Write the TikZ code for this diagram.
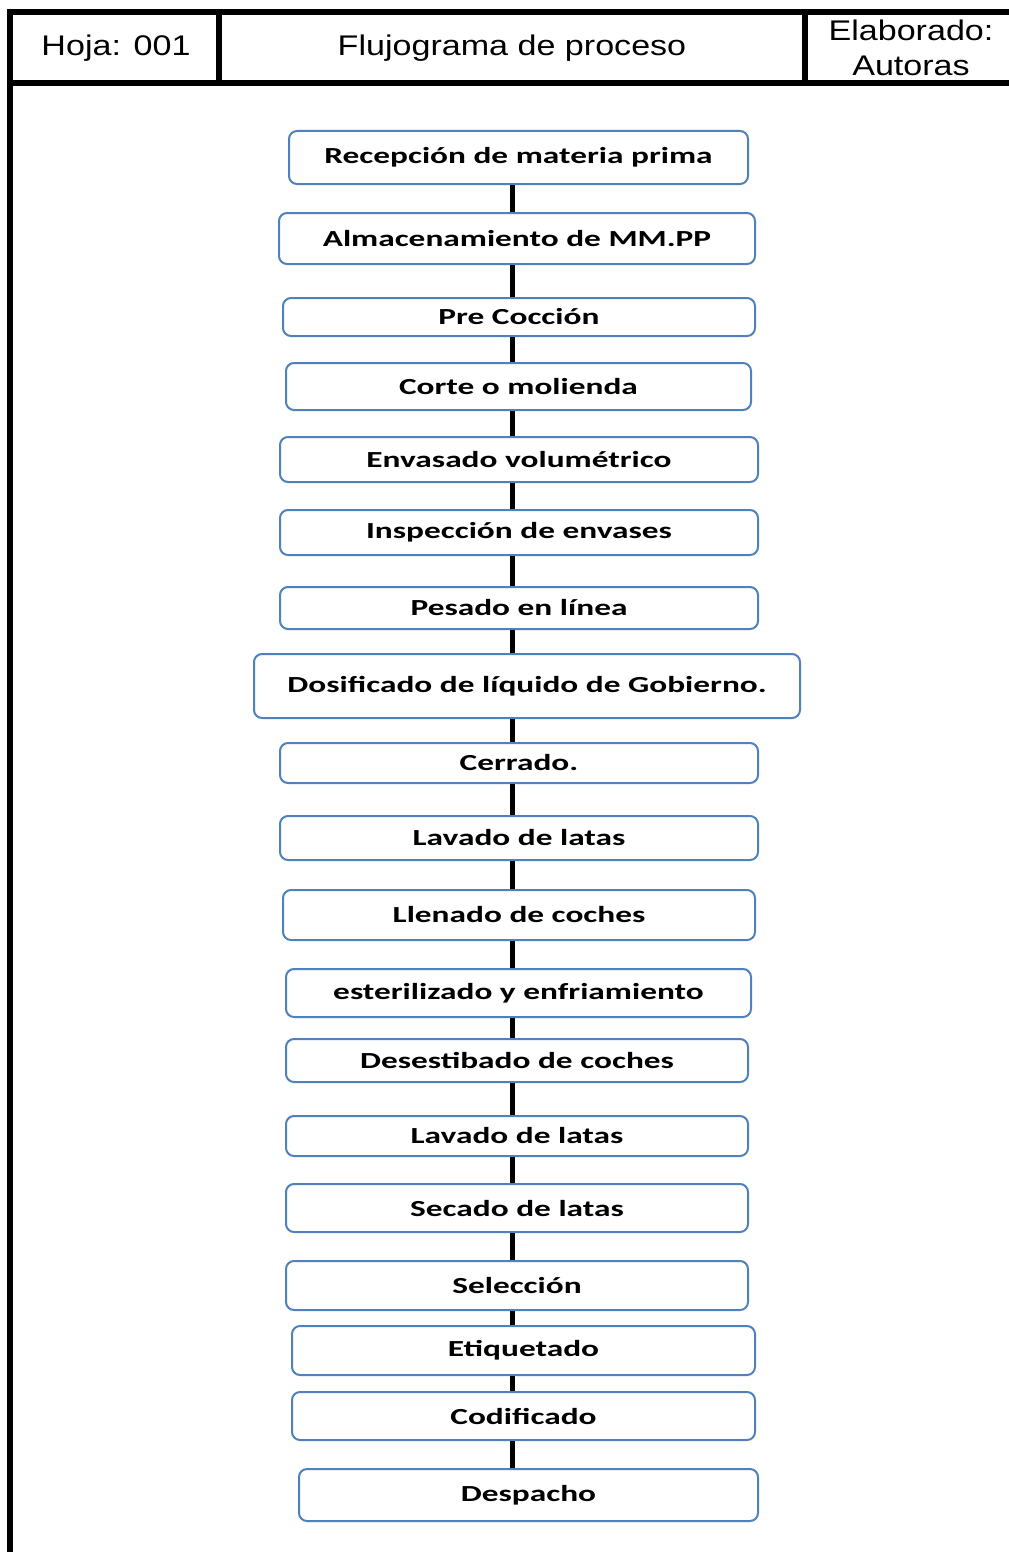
\documentclass[tikz,border=0pt]{standalone}
\usepackage{fontspec}
\setmainfont{Liberation Sans}
\newfontfamily\boxfont[FakeStretch=1.45]{Carlito}
\newfontfamily\headfont[FakeStretch=1.2]{Liberation Sans}
\definecolor{boxblue}{HTML}{4F81BD}
\begin{document}
\begin{tikzpicture}[x=0.5pt,y=-0.5pt,
  frame/.style={line width=2.6pt,black},
  box/.style={draw=boxblue,line width=1pt,rounded corners=4pt,fill=white,inner sep=0pt,
    font=\boxfont\bfseries\fontsize{11.5}{13}\selectfont},
  link/.style={line width=2.5pt,black},
  head/.style={font=\headfont\fontsize{14.2}{18}\selectfont,align=center}]
\useasboundingbox (0,0) rectangle (1008,1552);
% frame
\draw[frame] (10,1560) -- (10,12) -- (1016,12);
\draw[frame] (10,83) -- (1016,83);
\draw[frame] (219,12) -- (219,83);
\draw[frame] (805,12) -- (805,83);
\node[head] (hoja) at (116,48) {Hoja: 001};
\node[head] (title) at (512,48) {Flujograma de proceso};
\node[head,font=\headfont\fontsize{14.2}{17.5}\selectfont] (elab) at (911,48) {Elaborado:\\Autoras};
% spine
\coordinate (sp) at (512,0);
% boxes
\node[box,minimum width=229.5pt,minimum height=26.5pt] (b1) at (518.5,157.5) {Recepción de materia prima};
\node[box,minimum width=238pt,minimum height=25.5pt] (b2) at (517,238.5) {Almacenamiento de MM.PP};
\node[box,minimum width=236pt,minimum height=19pt] (b3) at (519,317) {Pre Cocción};
\node[box,minimum width=232.5pt,minimum height=23.5pt] (b4) at (518.5,386.5) {Corte o molienda};
\node[box,minimum width=239pt,minimum height=22.5pt] (b5) at (519,459.5) {Envasado volumétrico};
\node[box,minimum width=239pt,minimum height=22.5pt] (b6) at (519,532.5) {Inspección de envases};
\node[box,minimum width=239pt,minimum height=21pt] (b7) at (519,608) {Pesado en línea};
\node[box,minimum width=273pt,minimum height=32pt] (b8) at (527,686) {Dosificado de líquido de Gobierno.};
\node[box,minimum width=239pt,minimum height=20pt] (b9) at (519,763) {Cerrado.};
\node[box,minimum width=239pt,minimum height=22pt] (b10) at (519,838) {Lavado de latas};
\node[box,minimum width=236pt,minimum height=25pt] (b11) at (519,915) {Llenado de coches};
\node[box,minimum width=232.5pt,minimum height=24pt] (b12) at (518.5,993) {esterilizado y enfriamiento};
\node[box,minimum width=231pt,minimum height=21.5pt] (b13) at (517,1060.5) {Desestibado de coches};
\node[box,minimum width=231pt,minimum height=20pt] (b14) at (517,1136) {Lavado de latas};
\node[box,minimum width=231pt,minimum height=24pt] (b15) at (517,1208) {Secado de latas};
\node[box,minimum width=231pt,minimum height=24.5pt] (b16) at (517,1285.5) {Selección};
\node[box,minimum width=231.5pt,minimum height=24.5pt] (b17) at (523.5,1350.5) {Etiquetado};
\node[box,minimum width=231.5pt,minimum height=24pt] (b18) at (523.5,1416) {Codificado};
\node[box,minimum width=229.5pt,minimum height=26pt] (b19) at (528.5,1495) {Despacho};
% connectors
\foreach \a/\b in {b1/b2,b2/b3,b3/b4,b4/b5,b5/b6,b6/b7,b7/b8,b8/b9,b9/b10,b10/b11,b11/b12,b12/b13,b13/b14,b14/b15,b15/b16,b16/b17,b17/b18,b18/b19}
  \draw[link] (\a.south -| sp) -- (\b.north -| sp);
\end{tikzpicture}
\end{document}
